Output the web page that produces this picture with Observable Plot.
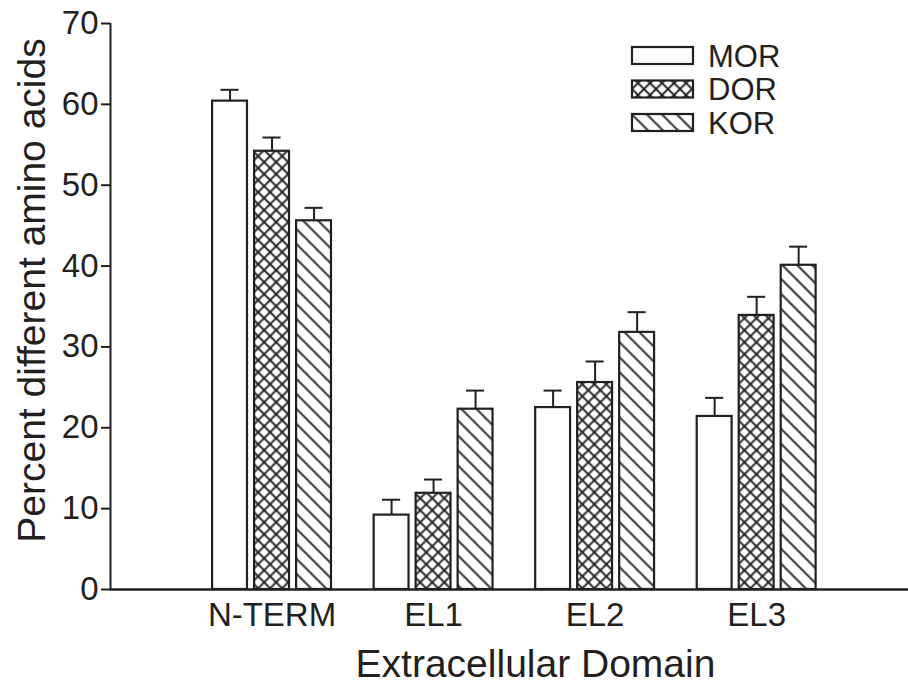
<!DOCTYPE html>
<html><head><meta charset="utf-8">
<script src="https://cdn.jsdelivr.net/npm/d3@7"></script>
<script src="https://cdn.jsdelivr.net/npm/@observablehq/plot@0.6"></script>
<style>
body{margin:0;background:#fff;}
#wrap{position:relative;width:908px;height:688px;font-family:"Liberation Sans",Arial,sans-serif;color:#231f20;}
#legend{position:absolute;left:620px;top:35px;}
</style></head><body>
<svg width="0" height="0" style="position:absolute">
<defs>
<pattern id="pat-dor" patternUnits="userSpaceOnUse" width="8.49" height="8.49" patternTransform="rotate(45)">
<rect width="8.49" height="8.49" fill="#fff"/>
<path d="M4.245,0V8.49M0,4.245H8.49" stroke="#231f20" stroke-width="1.9"/>
</pattern>
<pattern id="pat-kor" patternUnits="userSpaceOnUse" width="10.6" height="10.6" patternTransform="rotate(45)">
<rect width="10.6" height="10.6" fill="#fff"/>
<path d="M0,5.3H10.6" stroke="#231f20" stroke-width="1.9"/>
</pattern>
</defs></svg>
<div id="wrap"></div>
<script>
// ---- data ----
const domains = ["N-TERM", "EL1", "EL2", "EL3"];
const receptors = ["MOR", "DOR", "KOR"];
const MOR = [60.4, 9.2, 22.5, 21.4];
const DOR = [54.2, 11.9, 25.6, 33.9];
const KOR = [45.6, 22.3, 31.8, 40.1];
const MOR_err = [1.4, 1.9, 2.1, 2.3];
const DOR_err = [1.7, 1.7, 2.6, 2.3];
const KOR_err = [1.6, 2.3, 2.5, 2.3];
const yTicks = [0, 10, 20, 30, 40, 50, 60, 70];
const xTitle = "Extracellular Domain";
const yTitle = "Percent different amino acids";

// ---- build table ----
const series = {MOR, DOR, KOR};
const errs = {MOR: MOR_err, DOR: DOR_err, KOR: KOR_err};
const rows = domains.flatMap((d, gi) => receptors.map((r, ri) => ({
  domain: d, gi, receptor: r, ri, value: series[r][gi], err: errs[r][gi]
})));

const ink = "#231f20";
const fills = {MOR: "#ffffff", DOR: "url(#pat-dor)", KOR: "url(#pat-kor)"};
const barStep = 0.26, halfBar = 0.108, halfCap = 0.056;
const center = d => d.gi + 1 + (d.ri - 1) * barStep;

const chart = Plot.plot({
  width: 908, height: 688,
  marginLeft: 110, marginRight: 0, marginTop: 23, marginBottom: 99,
  style: {fontFamily: "'Liberation Sans', Arial, sans-serif", color: ink, background: "#fff"},
  x: {domain: [0, 4.94], axis: null},
  y: {domain: [0, 70], axis: null},
  color: {type: "identity"},
  marks: [
    Plot.rect(rows, {
      x1: d => center(d) - halfBar, x2: d => center(d) + halfBar,
      y1: 0, y2: "value",
      fill: d => fills[d.receptor], stroke: ink, strokeWidth: 2.2
    }),
    Plot.ruleX(rows, {x: center, y1: "value", y2: d => d.value + d.err, stroke: ink, strokeWidth: 2}),
    Plot.ruleY(rows, {x1: d => center(d) - halfCap, x2: d => center(d) + halfCap, y: d => d.value + d.err, stroke: ink, strokeWidth: 2}),
    Plot.ruleY([0], {stroke: ink, strokeWidth: 2.5}),
    Plot.ruleX([0], {stroke: ink, strokeWidth: 2}),
    Plot.axisY({ticks: yTicks, tickSize: 9, tickPadding: 3, fontSize: 33, tickFormat: d => String(d), label: null, strokeWidth: 2, stroke: ink, fill: ink}),
    Plot.axisX({ticks: [1, 2, 3, 4], tickFormat: v => domains[v - 1], tickSize: 0, tickPadding: 13, fontSize: 33, label: null, fill: ink}),
    Plot.text([xTitle], {frameAnchor: "bottom", dx: 26, dy: 75, fontSize: 39, lineAnchor: "middle", fill: ink}),
    Plot.text([yTitle], {frameAnchor: "left", rotate: -90, dx: -78, dy: -16, fontSize: 39, lineAnchor: "middle", textAnchor: "middle", fill: ink})
  ]
});
document.getElementById("wrap").appendChild(chart);

// ---- legend ----
const ns = "http://www.w3.org/2000/svg";
const leg = document.createElementNS(ns, "svg");
leg.setAttribute("id", "legend");
leg.setAttribute("width", 210);
leg.setAttribute("height", 110);
receptors.forEach((r, i) => {
  const yTop = 12 + i * 33.5;
  const rect = document.createElementNS(ns, "rect");
  rect.setAttribute("x", 12); rect.setAttribute("y", yTop);
  rect.setAttribute("width", 61); rect.setAttribute("height", 17);
  rect.setAttribute("fill", fills[r]); rect.setAttribute("stroke", ink); rect.setAttribute("stroke-width", 2.2);
  leg.appendChild(rect);
  const t = document.createElementNS(ns, "text");
  t.setAttribute("x", 88); t.setAttribute("y", yTop + 8.5);
  t.setAttribute("dy", "0.36em");
  t.setAttribute("font-size", 31);
  t.setAttribute("fill", ink);
  t.setAttribute("font-family", "'Liberation Sans', Arial, sans-serif");
  t.textContent = r;
  leg.appendChild(t);
});
document.getElementById("wrap").appendChild(leg);
</script>
</body></html>
